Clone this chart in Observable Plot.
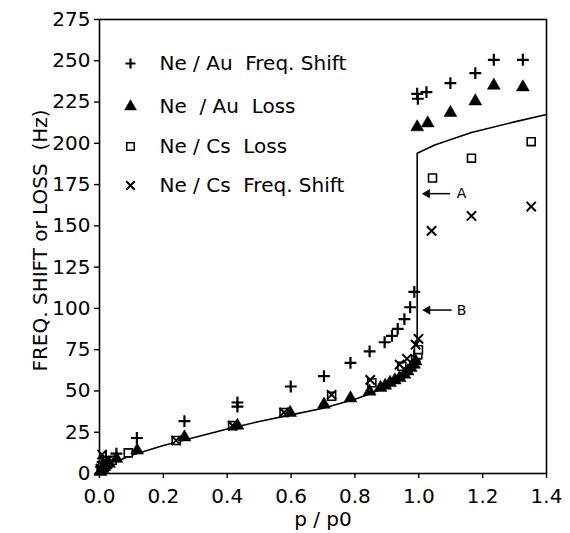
<!DOCTYPE html>
<html>
<head>
<meta charset="utf-8">
<script src="https://cdn.jsdelivr.net/npm/d3@7"></script>
<script src="https://cdn.jsdelivr.net/npm/@observablehq/plot@0.6"></script>
<style>
  html, body { margin: 0; padding: 0; background: #fff; }
  svg { white-space: pre; }
</style>
</head>
<body>
<div id="chart"></div>
<script>
// ---- Data ----
const auShiftX = [0.005, 0.01, 0.02, 0.053, 0.117, 0.266, 0.432, 0.432, 0.599, 0.703, 0.786, 0.846, 0.893, 0.916, 0.934, 0.955, 0.973, 0.986, 0.995, 0.997, 1.024, 1.099, 1.177, 1.235, 1.326];
const auShiftY = [4, 7, 10, 12, 21.5, 31.7, 43, 40.5, 52.7, 59, 67, 74, 79.5, 83.4, 87.6, 93.5, 100.7, 110, 230, 227, 231, 236.5, 242.5, 250.6, 250.6];

const auLossX = [0.003, 0.006, 0.01, 0.015, 0.02, 0.03, 0.053, 0.118, 0.266, 0.432, 0.597, 0.703, 0.786, 0.846, 0.88, 0.895, 0.91, 0.925, 0.94, 0.955, 0.965, 0.975, 0.985, 0.99, 0.995, 1.028, 1.099, 1.177, 1.235, 1.326];
const auLossY = [1, 2, 3, 4, 5, 6, 9, 14, 22, 29, 36.8, 41.8, 45.6, 49.7, 52, 53.3, 55, 56.5, 58, 60, 62, 64, 66, 68, 209.8, 212.2, 218.5, 225.5, 235, 234];

const csLossX = [0.005, 0.01, 0.02, 0.04, 0.09, 0.24, 0.417, 0.578, 0.727, 0.853, 0.947, 0.99, 0.997, 0.999, 1.043, 1.165, 1.352];
const csLossY = [2, 4, 6, 8, 12.5, 20, 29, 37, 46.8, 55, 65, 69, 72, 75, 179, 191, 201];

const csShiftX = [0.003, 0.008, 0.015, 0.24, 0.417, 0.578, 0.727, 0.848, 0.94, 0.963, 0.99, 0.999, 1.04, 1.165, 1.352];
const csShiftY = [3, 11.5, 7, 20, 29, 37, 47.7, 56.7, 66, 69.5, 78, 81.6, 147, 156, 161.7];

const curveX = [0, 0.02, 0.05, 0.1, 0.2, 0.3, 0.4, 0.5, 0.6, 0.7, 0.8, 0.85, 0.9, 0.93, 0.96, 0.98, 0.99, 0.995, 0.995, 1.05, 1.165, 1.3, 1.4];
const curveY = [0, 4, 7, 11, 17, 22, 27, 31.5, 35.5, 39.5, 45, 48.5, 52.5, 56, 60, 64, 68, 75, 194, 199, 206.5, 213, 217.5];

const annLabels = ["A", "B"];
const annY = [169.5, 99];
const annFromX = [1.098, 1.103];
const annToX = [1.014, 1.015];
const annTextX = [1.134, 1.134];

const legendLabels = ["Ne / Au  Freq. Shift", "Ne  / Au  Loss", "Ne / Cs  Loss", "Ne / Cs  Freq. Shift"];
const xTicks = [0, 0.2, 0.4, 0.6, 0.8, 1.0, 1.2, 1.4];
const yTicks = [0, 25, 50, 75, 100, 125, 150, 175, 200, 225, 250, 275];
const xTitle = "p / p0";
const yTitle = "FREQ. SHIFT or LOSS  (Hz)";

// ---- Build tables ----
const zip = (xs, ys) => xs.map((x, i) => ({x, y: ys[i]}));
const auShift = zip(auShiftX, auShiftY);
const auLoss = zip(auLossX, auLossY);
const csLoss = zip(csLossX, csLossY);
const csShift = zip(csShiftX, csShiftY);
const curve = zip(curveX, curveY);
const ann = annLabels.map((t, i) => ({t, y: annY[i], x1: annFromX[i], x2: annToX[i], tx: annTextX[i]}));

const symStyles = [
  {symbol: "plus", r: 3.9, stroke: "black", strokeWidth: 2.2, fill: "none"},
  {symbol: "triangle", r: 4.8, fill: "black", stroke: "black", strokeWidth: 0.5},
  {symbol: "square", r: 4.5, fill: "white", stroke: "black", strokeWidth: 1.6},
  {symbol: "times", r: 4.3, stroke: "black", strokeWidth: 2, fill: "none"}
];
const legendSym = [
  {symbol: "plus", r: 3.3, stroke: "black", strokeWidth: 2.2, fill: "none"},
  {symbol: "triangle", r: 4.4, fill: "black", stroke: "black", strokeWidth: 0.5},
  {symbol: "square", r: 4.2, fill: "white", stroke: "black", strokeWidth: 1.5},
  {symbol: "times", r: 3.9, stroke: "black", strokeWidth: 2, fill: "none"}
];
const legendRowsPx = [44, 87, 127, 166];

const FONT = "'DejaVu Sans', 'Liberation Sans', sans-serif";

const legendMarks = legendLabels.flatMap((lab, i) => [
  Plot.dot([0], {frameAnchor: "top-left", dx: 31, dy: legendRowsPx[i], ...legendSym[i]}),
  Plot.text([lab], {frameAnchor: "top-left", dx: 60, dy: legendRowsPx[i], textAnchor: "start", lineAnchor: "middle", fontSize: 20})
]);

const chart = Plot.plot({
  width: 570,
  height: 533,
  marginLeft: 99,
  marginRight: 24,
  marginTop: 19,
  marginBottom: 60,
  style: {fontFamily: FONT, fontSize: "20px", background: "white", color: "black"},
  x: {domain: [0, 1.4]},
  y: {domain: [0, 275]},
  marks: [
    Plot.frame({stroke: "black", strokeWidth: 1.6}),
    Plot.axisX({ticks: xTicks, tickFormat: d3.format(".1f"), tickSize: 5, tickPadding: 10, label: null, fontSize: 20, strokeWidth: 1.4}),
    Plot.axisY({ticks: yTicks, tickFormat: d3.format("d"), tickSize: 5, tickPadding: 4, label: null, fontSize: 20, strokeWidth: 1.4}),
    Plot.text([xTitle], {frameAnchor: "bottom", dy: 46, lineAnchor: "middle", textAnchor: "middle", fontSize: 20}),
    Plot.text([yTitle], {frameAnchor: "left", dx: -59, dy: -6, rotate: -90, textAnchor: "middle", lineAnchor: "middle", fontSize: 20, letterSpacing: "1.4px"}),
    Plot.line(curve, {x: "x", y: "y", stroke: "black", strokeWidth: 1.6}),
    Plot.dot(csLoss, {x: "x", y: "y", ...symStyles[2]}),
    Plot.dot(auLoss, {x: "x", y: "y", ...symStyles[1]}),
    Plot.dot(csShift, {x: "x", y: "y", ...symStyles[3]}),
    Plot.dot(auShift, {x: "x", y: "y", ...symStyles[0]}),
    Plot.link(ann, {x1: "x1", x2: "x2", y1: "y", y2: "y", stroke: "black", strokeWidth: 1.5}),
    Plot.dot(ann, {x: "x2", y: "y", symbol: "triangle", r: 3.4, rotate: -90, fill: "black", dx: 4}),
    Plot.text(ann, {x: "tx", y: "y", text: "t", fontSize: 14, textAnchor: "middle", lineAnchor: "middle"}),
    ...legendMarks
  ]
});
document.getElementById("chart").appendChild(chart);
</script>
</body>
</html>
